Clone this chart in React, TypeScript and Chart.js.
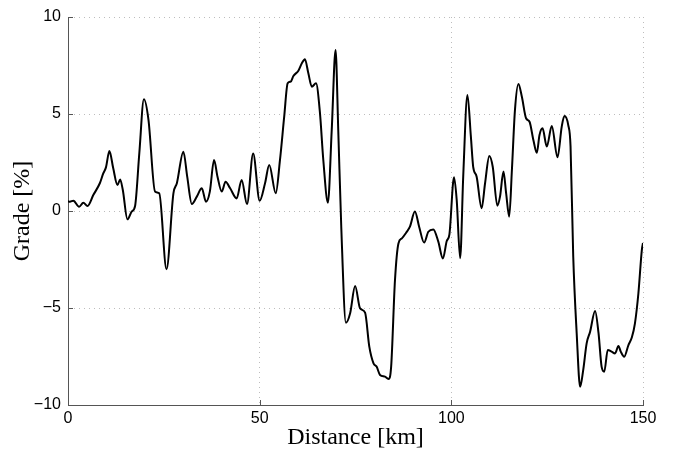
import React, { useEffect, useRef } from "react";
import { Chart, registerables } from "chart.js";

Chart.register(...registerables);

const distanceKm = [
  0, 0.5, 1.4, 2.9, 4.0, 5.1, 6.6, 8.3, 9.2, 9.9, 10.8, 11.8, 12.9, 13.6, 14.3, 15.5, 16.6, 17.5, 18.6, 19.8,
  21.0, 22.7, 23.8, 25.7, 27.5, 28.4, 30.1, 31.1, 32.3, 33.6, 34.9, 36.0, 37.0, 38.1, 39.0, 40.1, 41.1, 42.3,
  44.0, 45.3, 46.7, 48.3, 50.0, 51.4, 52.5, 54.2, 55.3, 56.4, 57.3, 58.1, 58.8, 60.1, 61.0, 61.8, 62.7, 63.6,
  64.7, 65.7, 66.6, 67.8, 68.8, 69.8, 70.5, 71.3, 72.5, 73.6, 74.9, 76.2, 77.5, 78.6, 79.7, 80.5, 81.4, 82.7,
  83.6, 84.3, 85.3, 86.2, 87.1, 88.2, 89.2, 90.5, 91.6, 92.9, 94.0, 95.3, 96.6, 97.8, 98.8, 99.5, 100.7, 101.4,
  102.3, 103.1, 104.2, 105.1, 105.7, 106.6, 107.9, 108.8, 109.9, 110.8, 112.0, 112.7, 113.6, 114.3, 115.1,
  115.8, 116.6, 117.5, 118.4, 119.5, 120.4, 121.4, 122.3, 123.0, 123.8, 124.9, 126.2, 127.7, 128.8, 129.5,
  130.5, 131.1, 131.8, 132.7, 133.6, 134.4, 135.3, 136.2, 137.5, 138.4, 139.2, 139.9, 140.8, 141.8, 142.7,
  143.6, 144.2, 145.1, 146.2, 147.1, 147.9, 148.8, 149.7, 150.0,
];

const gradePct = [
  0.5, 0.48, 0.53, 0.22, 0.43, 0.26, 0.82, 1.43, 1.94, 2.25, 3.09, 2.2, 1.34, 1.63, 1.08, -0.43, -0.03, 0.26, 2.97, 5.76,
  4.69, 1.0, 0.91, -3.0, 0.91, 1.43, 3.06, 1.77, 0.36, 0.74, 1.17, 0.48, 1.0, 2.63, 1.77, 1.0, 1.51, 1.17,
  0.65, 1.6, 0.36, 2.97, 0.53, 1.43, 2.37, 0.91, 2.63, 4.86, 6.58, 6.67, 6.96, 7.23, 7.61, 7.82, 7.1, 6.41,
  6.58, 5.12, 2.63, 0.43, 4.18, 8.3, 4.18, -0.9, -5.76, -5.27, -3.87, -5.02, -5.24, -6.99, -7.85, -8.02, -8.45, -8.54,
  -8.66, -8.02, -3.56, -1.67, -1.41, -1.12, -0.81, -0.03, -0.81, -1.63, -1.07, -0.95, -1.58, -2.45, -1.55, -1.2, 1.74, 0.57,
  -2.44, 1.77, 5.98, 3.83, 2.28, 1.77, 0.14, 1.43, 2.84, 2.28, 0.27, 0.74, 2.03, 0.91, -0.29,
  2.11, 5.21, 6.55, 5.89, 4.78, 4.6, 3.66, 3.0, 3.92, 4.26, 3.32, 4.38, 2.77, 4.35, 4.9,
  4.43, 3.32, -2.35, -6.3, -9.06, -8.2, -6.82, -6.22, -5.15, -6.3, -8.02, -8.28, -7.16, -7.25, -7.34,
  -6.96, -7.25, -7.51, -6.91, -6.51, -5.79, -4.24, -2.0, -1.65,
];

const xTicks = [0, 50, 100, 150];
const yTicks = [-10, -5, 0, 5, 10];
const xTitle = "Distance [km]";
const yTitle = "Grade [%]";

const innerTicks = {
  id: "innerTicks",
  afterDraw(chart: any) {
    const ctx = chart.ctx;
    const xs = chart.scales.x;
    const ys = chart.scales.y;
    const area = chart.chartArea;
    ctx.save();
    ctx.strokeStyle = "#555";
    ctx.lineWidth = 1;
    ctx.setLineDash([]);
    ctx.beginPath();
    xTicks.forEach((v) => {
      const px = Math.round(xs.getPixelForValue(v)) + 0.5;
      ctx.moveTo(px, area.bottom);
      ctx.lineTo(px, area.bottom - 5);
    });
    yTicks.forEach((v) => {
      const py = Math.round(ys.getPixelForValue(v)) + 0.5;
      ctx.moveTo(area.left, py);
      ctx.lineTo(area.left + 5, py);
    });
    ctx.stroke();
    ctx.restore();
  },
};

const tickFont = { family: "'Liberation Sans', Arial, sans-serif", size: 16 };
const titleFont = { family: "'Liberation Serif', 'DejaVu Serif', serif", size: 24 };

export default function App() {
  const ref = useRef<HTMLCanvasElement | null>(null);
  useEffect(() => {
    if (!ref.current) return;
    const chart = new Chart(ref.current, {
      type: "line",
      data: {
        datasets: [
          {
            data: distanceKm.map((d, i) => ({ x: d, y: gradePct[i] })),
            borderColor: "#000",
            borderWidth: 2,
            pointRadius: 0,
            cubicInterpolationMode: "monotone",
            fill: false,
          },
        ],
      },
      options: {
        animation: false,
        responsive: false,
        devicePixelRatio: 1,
        layout: { padding: { left: 0, right: 32, top: 17, bottom: 0 } },
        plugins: { legend: { display: false }, tooltip: { enabled: false } },
        scales: {
          x: {
            type: "linear",
            min: 0,
            max: 150,
            afterFit: (s: any) => {
              s.height = 47;
            },
            afterBuildTicks: (s: any) => {
              s.ticks = xTicks.map((v) => ({ value: v }));
            },
            ticks: { color: "#000", font: tickFont, padding: 4, maxRotation: 0 },
            grid: { drawTicks: false, color: "#bdbdbd", lineWidth: 1 },
            border: { display: true, color: "#555", width: 1, dash: [1, 4] },
            title: {
              display: true,
              text: xTitle,
              color: "#000",
              font: titleFont,
              padding: { top: 0, bottom: 0 },
            },
          },
          y: {
            type: "linear",
            min: -10,
            max: 10,
            afterFit: (s: any) => {
              s.width = 68;
            },
            afterBuildTicks: (s: any) => {
              s.ticks = yTicks.map((v) => ({ value: v }));
            },
            ticks: {
              color: "#000",
              font: tickFont,
              padding: 7,
              callback: (v: any) => String(v).replace("-", "\u2212"),
            },
            grid: { drawTicks: false, color: "#bdbdbd", lineWidth: 1 },
            border: { display: true, color: "#555", width: 1, dash: [1, 4] },
            title: {
              display: true,
              text: yTitle,
              color: "#000",
              font: titleFont,
              padding: { top: 8, bottom: 0 },
            },
          },
        },
      },
      plugins: [innerTicks],
    } as any);
    return () => chart.destroy();
  }, []);
  return (
    <div style={{ position: "absolute", left: 0, top: 0, width: 675, height: 452, background: "#fff" }}>
      <canvas ref={ref} width={675} height={452} />
    </div>
  );
}
